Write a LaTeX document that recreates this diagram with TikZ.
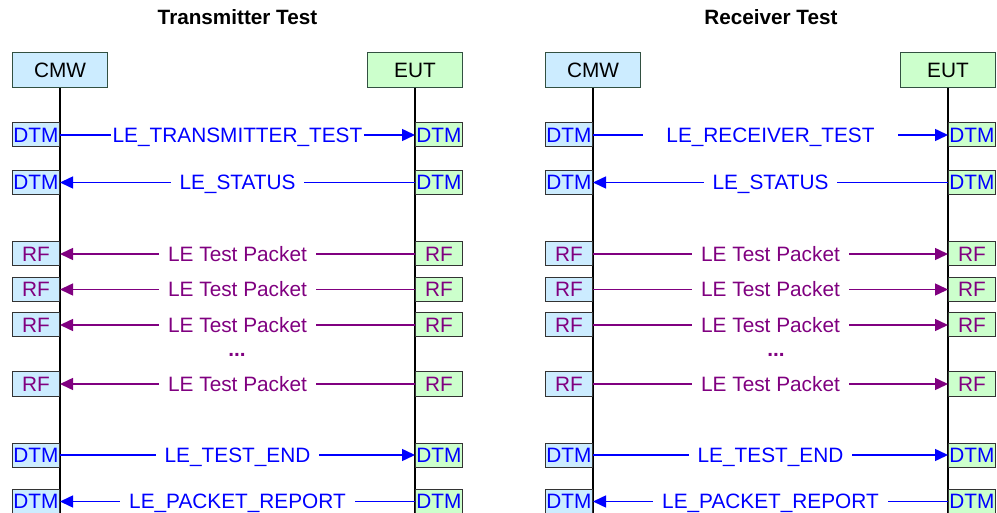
\documentclass[tikz,border=0pt]{standalone}
\usepackage{fontspec}
\setmainfont{Liberation Sans}
\usetikzlibrary{arrows.meta}

\definecolor{cmwfill}{RGB}{204,236,255}
\definecolor{eutfill}{RGB}{204,255,204}
\definecolor{entline}{RGB}{50,80,65}
\definecolor{msgblue}{RGB}{0,0,255}
\definecolor{msgpurple}{RGB}{128,0,128}

\tikzset{
  txt/.style={font=\fontsize{20.8}{24}\selectfont},
  title/.style={font=\fontsize{20.7}{24}\selectfont\bfseries, anchor=base},
  entity/.style={txt, draw=entline, line width=1pt, minimum width=95pt,
    minimum height=35pt, inner sep=0pt},
  lifeline/.style={line width=1.4pt, black},
  port/.style={txt, draw=black!80, line width=1pt, minimum width=47pt,
    minimum height=24pt, inner sep=0pt, text height=14.8pt, text depth=0pt},
  dtmL/.style={port, fill=cmwfill, text=msgblue, anchor=east},
  dtmR/.style={port, fill=eutfill, text=msgblue, anchor=west},
  rfL/.style={port, fill=cmwfill, text=msgpurple, anchor=east},
  rfR/.style={port, fill=eutfill, text=msgpurple, anchor=west},
  msg/.style={line width=1.5pt, -{Triangle[length=13pt,width=12pt]}},
  blue msg/.style={msg, msgblue},
  rf msg/.style={msg, msgpurple},
  lbl/.style={txt, fill=white, inner xsep=9pt, inner ysep=0pt,
    text height=14.8pt, text depth=0pt, midway},
  dots/.style={font=\fontsize{20.7}{24}\selectfont\bfseries, text=msgpurple, anchor=base}
}

\begin{document}
\begin{tikzpicture}[x=1pt, y=-1pt]
  \useasboundingbox (0,0) rectangle (997,513);

  % headings
  \node[title] (tTx) at (237.5,24.5) {Transmitter Test};
  \node[title] (tRx) at (771,24.5) {Receiver Test};

  % instances
  \node[entity, fill=cmwfill] (cmwA) at (60,70.5) {CMW};
  \node[entity, fill=eutfill] (eutA) at (415,70.5) {EUT};
  \node[entity, fill=cmwfill] (cmwB) at (593,70.5) {CMW};
  \node[entity, fill=eutfill] (eutB) at (948,70.5) {EUT};

  \coordinate (endA1) at (60,513);
  \coordinate (endA2) at (415,513);
  \coordinate (endB1) at (593,513);
  \coordinate (endB2) at (948,513);
  \draw[lifeline] (cmwA.south) -- (endA1);
  \draw[lifeline] (eutA.south) -- (endA2);
  \draw[lifeline] (cmwB.south) -- (endB1);
  \draw[lifeline] (eutB.south) -- (endB2);

  % ---------------- transmitter test ----------------
  \node[dtmL] (a1l) at (60,135) {DTM};   \node[dtmR] (a1r) at (415,135) {DTM};
  \node[dtmL] (a2l) at (60,182.5) {DTM}; \node[dtmR] (a2r) at (415,182.5) {DTM};
  \node[rfL] (a3l) at (60,254) {RF};     \node[rfR] (a3r) at (415,254) {RF};
  \node[rfL] (a4l) at (60,289.5) {RF};   \node[rfR] (a4r) at (415,289.5) {RF};
  \node[rfL] (a5l) at (60,325) {RF};     \node[rfR] (a5r) at (415,325) {RF};
  \node[rfL] (a6l) at (60,384) {RF};     \node[rfR] (a6r) at (415,384) {RF};
  \node[dtmL] (a7l) at (60,455) {DTM};   \node[dtmR] (a7r) at (415,455) {DTM};
  \node[dtmL] (a8l) at (60,501.5) {DTM}; \node[dtmR] (a8r) at (415,501.5) {DTM};

  \draw[blue msg] (a1l.east) -- (a1r.west) node[lbl, text=msgblue, inner xsep=2pt] {LE\_TRANSMITTER\_TEST};
  \draw[blue msg] (a2r.west) -- (a2l.east) node[lbl, text=msgblue] {LE\_STATUS};
  \draw[rf msg] (a3r.west) -- (a3l.east) node[lbl, text=msgpurple] {LE Test Packet};
  \draw[rf msg] (a4r.west) -- (a4l.east) node[lbl, text=msgpurple] {LE Test Packet};
  \draw[rf msg] (a5r.west) -- (a5l.east) node[lbl, text=msgpurple] {LE Test Packet};
  \node[dots] (aDots) at (237,356) {...};
  \draw[rf msg] (a6r.west) -- (a6l.east) node[lbl, text=msgpurple] {LE Test Packet};
  \draw[blue msg] (a7l.east) -- (a7r.west) node[lbl, text=msgblue] {LE\_TEST\_END};
  \draw[blue msg] (a8r.west) -- (a8l.east) node[lbl, text=msgblue] {LE\_PACKET\_REPORT};

  % ---------------- receiver test ----------------
  \node[dtmL] (b1l) at (593,135) {DTM};   \node[dtmR] (b1r) at (948,135) {DTM};
  \node[dtmL] (b2l) at (593,182.5) {DTM}; \node[dtmR] (b2r) at (948,182.5) {DTM};
  \node[rfL] (b3l) at (593,254) {RF};     \node[rfR] (b3r) at (948,254) {RF};
  \node[rfL] (b4l) at (593,289.5) {RF};   \node[rfR] (b4r) at (948,289.5) {RF};
  \node[rfL] (b5l) at (593,325) {RF};     \node[rfR] (b5r) at (948,325) {RF};
  \node[rfL] (b6l) at (593,384) {RF};     \node[rfR] (b6r) at (948,384) {RF};
  \node[dtmL] (b7l) at (593,455) {DTM};   \node[dtmR] (b7r) at (948,455) {DTM};
  \node[dtmL] (b8l) at (593,501.5) {DTM}; \node[dtmR] (b8r) at (948,501.5) {DTM};

  \draw[blue msg] (b1l.east) -- (b1r.west) node[lbl, text=msgblue, inner xsep=23pt] {LE\_RECEIVER\_TEST};
  \draw[blue msg] (b2r.west) -- (b2l.east) node[lbl, text=msgblue] {LE\_STATUS};
  \draw[rf msg] (b3l.east) -- (b3r.west) node[lbl, text=msgpurple] {LE Test Packet};
  \draw[rf msg] (b4l.east) -- (b4r.west) node[lbl, text=msgpurple] {LE Test Packet};
  \draw[rf msg] (b5l.east) -- (b5r.west) node[lbl, text=msgpurple] {LE Test Packet};
  \node[dots] (bDots) at (776,356) {...};
  \draw[rf msg] (b6l.east) -- (b6r.west) node[lbl, text=msgpurple] {LE Test Packet};
  \draw[blue msg] (b7l.east) -- (b7r.west) node[lbl, text=msgblue] {LE\_TEST\_END};
  \draw[blue msg] (b8r.west) -- (b8l.east) node[lbl, text=msgblue] {LE\_PACKET\_REPORT};
\end{tikzpicture}
\end{document}
